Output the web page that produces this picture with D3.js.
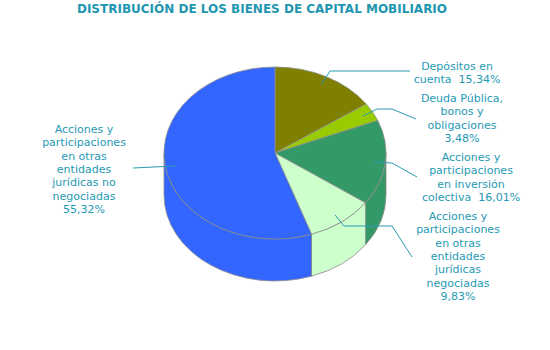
<!DOCTYPE html>
<html>
<head>
<meta charset="utf-8">
<script src="https://cdn.jsdelivr.net/npm/d3@7"></script>
<style>
  body { margin: 0; background: #fff; }
  text { font-family: Verdana, "DejaVu Sans", sans-serif; fill: #1f9ab4; }
</style>
</head>
<body>
<div id="chart"></div>
<script>
const title = "DISTRIBUCIÓN DE LOS BIENES DE CAPITAL MOBILIARIO";

const categories = [
  "Depósitos en cuenta",
  "Deuda Pública, bonos y obligaciones",
  "Acciones y participaciones en inversión colectiva",
  "Acciones y participaciones en otras entidades jurídicas negociadas",
  "Acciones y participaciones en otras entidades jurídicas no negociadas"
];
const values = [15.34, 3.48, 16.01, 9.83, 55.32];
const colors = ["#808000", "#99cc00", "#339966", "#ccffcc", "#3366ff"];

// label text lines, as wrapped in the original
const labelLines = [
  ["Depósitos en", "cuenta  15,34%"],
  ["Deuda Pública,", "bonos y", "obligaciones", "3,48%"],
  ["Acciones y", "participaciones", "en inversión", "colectiva  16,01%"],
  ["Acciones y", "participaciones", "en otras", "entidades", "jurídicas", "negociadas", "9,83%"],
  ["Acciones y", "participaciones", "en otras", "entidades", "jurídicas no", "negociadas", "55,32%"]
];

// layout: label centre / first baseline and leader elbows (layout, not data)
const labelLayout = [
  { x: 457, y: 70, path: [[330, 71], [410, 71]] },
  { x: 462, y: 102, path: [[377, 109], [392, 109], [416, 119]] },
  { x: 471, y: 161, path: [[392, 163], [417, 177]] },
  { x: 458, y: 220, path: [[344, 226], [392, 226], [412, 257]] },
  { x: 84, y: 133, path: [[133, 168]] }
];

const width = 550, height = 350;
const cx = 275, cy = 153, rx = 111, ry = 86, depth = 42;
const lineH = 13.3;

const svg = d3.select("#chart").append("svg")
  .attr("width", width).attr("height", height);

svg.append("text")
  .attr("x", 262).attr("y", 13)
  .attr("text-anchor", "middle")
  .style("font-size", "12px").style("font-weight", "bold")
  .style("fill", "#2196b0")
  .text(title);

const slices = d3.pie().sort(null).value(d => d)(values);

// theta measured clockwise from 12 o'clock
const px = (t, f = 1) => cx + rx * f * Math.sin(t);
const py = (t, f = 1, dz = 0) => cy - ry * f * Math.cos(t) + dz;

function arcTo(t0, t1, dz, sweep) {
  const large = Math.abs(t1 - t0) > Math.PI ? 1 : 0;
  return `A${rx},${ry} 0 ${large} ${sweep} ${px(t1)},${py(t1, 1, dz)}`;
}

// side walls (front half only)
const sides = svg.append("g");
slices.forEach((s, i) => {
  const a0 = Math.max(s.startAngle, Math.PI / 2);
  const a1 = Math.min(s.endAngle, Math.PI * 1.5);
  if (a1 <= a0) return;
  const d = `M${px(a0)},${py(a0)} ` + arcTo(a0, a1, 0, 1) +
    ` L${px(a1)},${py(a1, 1, depth)} ` + arcTo(a1, a0, depth, 0).replace(/A/, "A") + " Z";
  sides.append("path")
    .attr("d", d)
    .attr("fill", colors[i])
    .attr("stroke", "#8c8c8c")
    .attr("stroke-width", 0.8);
});

// top faces
const tops = svg.append("g");
slices.forEach((s, i) => {
  const d = `M${cx},${cy} L${px(s.startAngle)},${py(s.startAngle)} ` +
    arcTo(s.startAngle, s.endAngle, 0, 1) + " Z";
  tops.append("path")
    .attr("d", d)
    .attr("fill", colors[i])
    .attr("stroke", "#8c8c8c")
    .attr("stroke-width", 0.8)
    .attr("stroke-linejoin", "round");
});

// leader lines
const line = d3.line();
slices.forEach((s, i) => {
  const mid = (s.startAngle + s.endAngle) / 2;
  const pts = [[px(mid, 0.9), py(mid, 0.9)]].concat(labelLayout[i].path);
  svg.append("path")
    .attr("d", line(pts))
    .attr("fill", "none")
    .attr("stroke", "#2a9bb2")
    .attr("stroke-width", 1);
});

// labels
labelLines.forEach((lines, i) => {
  const t = svg.append("text")
    .attr("text-anchor", "middle")
    .style("font-size", "11px")
    .attr("xml:space", "preserve");
  lines.forEach((ln, j) => {
    t.append("tspan")
      .attr("x", labelLayout[i].x)
      .attr("y", labelLayout[i].y + j * lineH)
      .text(ln);
  });
});
</script>
</body>
</html>
